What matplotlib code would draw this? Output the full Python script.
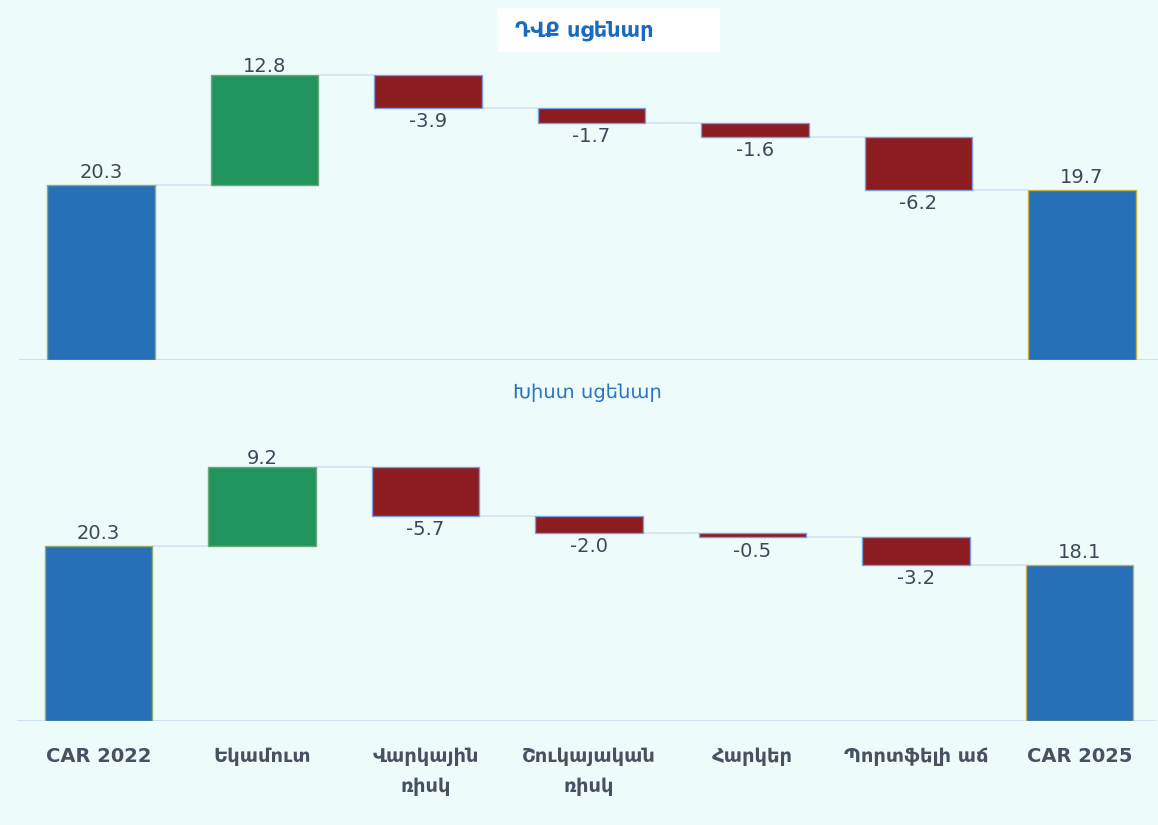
import matplotlib
matplotlib.use('Agg')
from matplotlib import pyplot as plt
from matplotlib.patches import Rectangle
import numpy as np

# categories along the x axis
labels = ['CAR 2022', 'Եկամուտ', 'Վարկային\nռիսկ', 'Շուկայական\nռիսկ',
          'Հարկեր', 'Պորտֆելի աճ', 'CAR 2025']

# baseline scenario (top) and severe scenario (bottom)
base_vals = [20.3, 12.8, -3.9, -1.7, -1.6, -6.2, 19.7]
severe_vals = [20.3, 9.2, -5.7, -2.0, -0.5, -3.2, 18.1]

title_top = 'ԴՎՔ սցենար'
title_bottom = 'Խիստ սցենար'

bg = '#edfbfb'
blue = '#2770b8'
green = '#22955e'
red = '#8b1c1f'
line_c = '#d3e2f2'
num_c = '#404858'
tick_c = '#4a5060'
num_font = ['Liberation Sans Narrow', 'DejaVu Sans']

W, H = 1158, 825
px_per_unit = 8.62
step = 163.5
xlim = (-0.5, 6.47)


def waterfall(ax, vals):
    n = len(vals)
    x = np.arange(n)
    bottoms = []
    heights = []
    colors = []
    edges = []
    level = 0
    for i, v in enumerate(vals):
        if i == 0 or i == n - 1:
            bottoms.append(0)
            heights.append(v)
            colors.append(blue)
            edges.append('#8fae6a' if i == 0 else '#c8b04a')
            level = v
        else:
            if v >= 0:
                bottoms.append(level)
                colors.append(green)
                edges.append('#6fa87a')
            else:
                bottoms.append(level + v)
                colors.append(red)
                edges.append('#7a9ee0')
            heights.append(abs(v))
            level += v
    w = 0.66
    ax.bar(x, heights, bottom=bottoms, width=w, color=colors,
           edgecolor=edges, linewidth=1, zorder=3)
    ax.axhline(0, color=line_c, lw=1.5, zorder=1)
    # connector lines
    level = 0
    for i, v in enumerate(vals[:-1]):
        level = v if i == 0 else level + v
        ax.hlines(level, x[i] + w / 2, x[i + 1] - w / 2, color=line_c,
                  lw=1.2, zorder=2)
    # value labels
    level = 0
    for i, v in enumerate(vals):
        if i == 0 or i == n - 1:
            level = v
            ax.annotate(f'{v:.1f}', (x[i], v), xytext=(0, 2),
                        textcoords='offset points', ha='center', va='bottom',
                        fontsize=14, color=num_c, family=num_font)
        elif v >= 0:
            level = level + v
            ax.annotate(f'{v:.1f}', (x[i], level), xytext=(0, -1),
                        textcoords='offset points', ha='center', va='bottom',
                        fontsize=14, color=num_c, family=num_font)
        else:
            level = level + v
            ax.annotate(f'{v:.1f}', (x[i], level), xytext=(0, -3),
                        textcoords='offset points', ha='center', va='top',
                        fontsize=14, color=num_c, family=num_font)
    ax.set_xlim(*xlim)
    ax.set_facecolor('none')
    for s in ax.spines.values():
        s.set_visible(False)
    ax.set_yticks([])


fig = plt.figure(figsize=(W / 100, H / 100), dpi=100, facecolor=bg)

# top panel: first bar centre at px 101, baseline at px 360
left_top = 101 + xlim[0] * step
width_px = (xlim[1] - xlim[0]) * step
ax1 = fig.add_axes([left_top / W, (H - 360) / H, width_px / W, 340 / H])
waterfall(ax1, base_vals)
ax1.set_ylim(0, 340 / px_per_unit)
ax1.set_xticks([])

# bottom panel: first bar centre at px 98.5, baseline at px 721
left_bot = 98.5 + xlim[0] * step
ax2 = fig.add_axes([left_bot / W, (H - 721) / H, width_px / W, 321 / H])
waterfall(ax2, severe_vals)
ax2.set_ylim(0, 321 / px_per_unit)
ax2.set_xticks(np.arange(len(labels)))
ax2.set_xticklabels(labels, fontsize=14, fontweight='bold', color=tick_c,
                    linespacing=1.7, family=num_font)
ax2.tick_params(axis='x', length=0, pad=19)

# titles
fig.patches.append(Rectangle((497 / W, 1 - 52 / H), 223 / W, 44 / H,
                             transform=fig.transFigure, fc='white', ec='none',
                             zorder=0))
fig.text(515 / W, 1 - 31 / H, title_top, fontsize=15, fontweight='bold',
         color='#1a6bbf', ha='left', va='center')
fig.text(587 / W, 1 - 393 / H, title_bottom, fontsize=14,
         color='#2a75c0', ha='center', va='center')

plt.savefig('out.png', dpi=100, facecolor=bg)
